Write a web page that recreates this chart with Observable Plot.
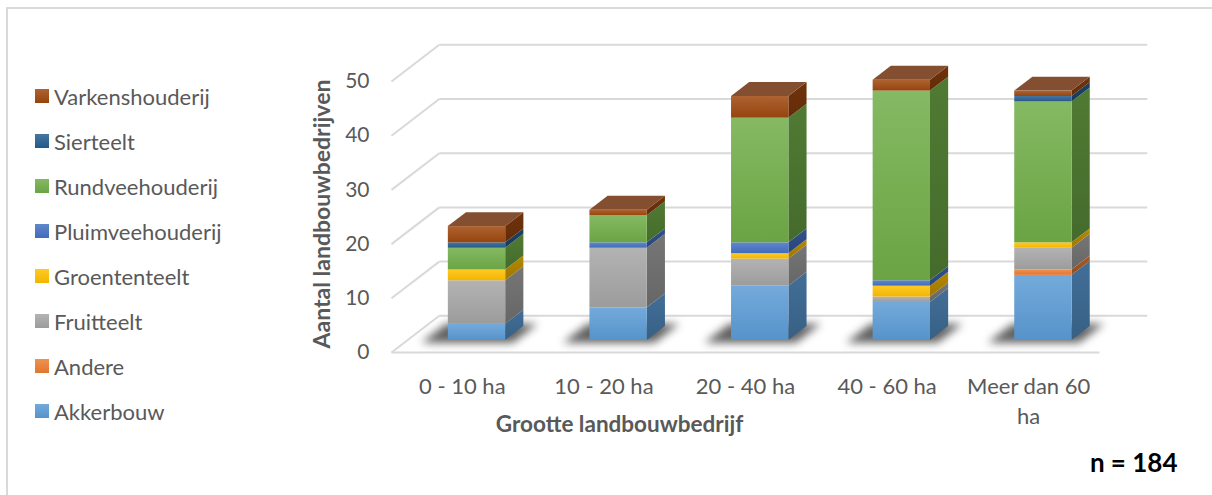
<!DOCTYPE html>
<html>
<head>
<meta charset="utf-8">
<script src="https://cdn.jsdelivr.net/npm/d3@7"></script>
<script src="https://cdn.jsdelivr.net/npm/@observablehq/plot@0.6"></script>
<style>
  html, body { margin: 0; padding: 0; background: #fff; overflow: hidden; }
  #chart { position: relative; width: 1212px; height: 495px; overflow: hidden; font-family: Lato, "Open Sans", sans-serif; }
  #frame { position: absolute; left: 6px; top: 7px; width: 1300px; height: 600px; border-top: 2px solid #d9d9d9; border-left: 2px solid #d9d9d9; }
  #plot { position: absolute; left: 0; top: 0; }
  .item { position: absolute; left: 35px; height: 30px; display: flex; align-items: center; font-size: 22px; color: #595959; white-space: nowrap; }
  .swatch { width: 14px; height: 14px; margin-right: 5px; flex: none; }
</style>
</head>
<body>
<div id="chart"><div id="frame"></div><div id="plot"></div><div id="legend"></div></div>
<script>
// Farm counts per size class, stacked bottom to top in series order
const categories = ["0 - 10 ha", "10 - 20 ha", "20 - 40 ha", "40 - 60 ha", "Meer dan 60 ha"];
const seriesNames = ["Akkerbouw", "Andere", "Fruitteelt", "Groententeelt", "Pluimveehouderij", "Rundveehouderij", "Sierteelt", "Varkenshouderij"];
const seriesColors = ["#5b9bd5", "#ed7d31", "#a5a5a5", "#ffc000", "#4472c4", "#70ad47", "#255e91", "#9e480e"];
const akkerbouw        = [3, 6, 10, 7, 12];
const andere           = [0, 0, 0, 0, 1];
const fruitteelt       = [8, 11, 5, 1, 4];
const groententeelt    = [2, 0, 1, 2, 1];
const pluimveehouderij = [0, 1, 2, 1, 0];
const rundveehouderij  = [4, 5, 23, 35, 26];
const sierteelt        = [1, 0, 0, 0, 1];
const varkenshouderij  = [3, 1, 4, 2, 1];
const yTicks = [0, 10, 20, 30, 40, 50];
const xTitle = "Grootte landbouwbedrijf";
const yTitle = "Aantal landbouwbedrijven";

const seriesValues = [akkerbouw, andere, fruitteelt, groententeelt, pluimveehouderij, rundveehouderij, sierteelt, varkenshouderij];
const total = d3.sum(seriesValues, s => d3.sum(s));

// Oblique projection of depth: a full step back into the floor moves
// DX category units right and DY value units up.
const DX = 0.3376, DY = 6.77;
const Z0 = 0.33, Z1 = 0.71;          // front and back plane of the columns
const BAR_L = 0.29, BAR_R = 0.695;   // column extent within a category

// Stacked segments
const segments = [];
categories.forEach((c, i) => {
  let s = 0;
  seriesValues.forEach((vals, j) => {
    const v = vals[i];
    if (v > 0) { segments.push({i, j, s0: s, s1: s + v}); s += v; }
  });
});
const tops = categories.map((c, i) => segments.filter(d => d.i === i).at(-1));

const xl = d => d.i + BAR_L, xr = d => d.i + BAR_R;

const sideRows = segments.flatMap((d, k) => [Z0, Z1].map(z => ({
  key: k, x: xr(d) + z * DX, y1: d.s0 + z * DY, y2: d.s1 + z * DY, fill: `url(#side${d.j})`
})));
const topRows = tops.flatMap((d, k) => [Z0, Z1].map(z => ({
  key: k, y: d.s1 + z * DY, x1: xl(d) + z * DX, x2: xr(d) + z * DX,
  fill: d3.interpolateRgb(seriesColors[d.j], "#5a5a6a")(0.38)
})));
const shadowRows = categories.flatMap((c, i) => [Z0 - 0.08, Z1 + 0.06].map(z => ({
  key: i, y: z * DY, x1: i + BAR_L - 0.16 + z * DX, x2: i + BAR_R + 0.08 + z * DX
})));

const n = categories.length;
const grid = {stroke: "#d9d9d9", strokeWidth: 2};

const svg = Plot.plot({
  width: 1212, height: 495,
  marginLeft: 391, marginRight: 113, marginTop: 81, marginBottom: 143,
  x: {domain: [0, n], axis: null},
  y: {domain: [0, 50], axis: null},
  color: {type: "identity"},
  style: {fontFamily: "Lato, 'Open Sans', sans-serif", color: "#595959", background: "transparent"},
  marks: [
    // walls and floor
    Plot.link(yTicks, {x1: DX, x2: n + DX, y1: v => v + DY, y2: v => v + DY, ...grid}),
    Plot.link(yTicks, {x1: 0, x2: DX, y1: v => v, y2: v => v + DY, ...grid}),
    Plot.link([0], {x1: 0, x2: n, y1: 0, y2: 0, ...grid}),
    // soft contact shadows under the columns
    Plot.area(shadowRows, {y1: "y", x1: "x1", x2: "x2", z: "key", fill: "#000", fillOpacity: 0.62, ariaDescription: "shadow"}),
    // columns: side, front, top faces
    Plot.area(sideRows, {x1: "x", y1: "y1", y2: "y2", z: "key", fill: "fill"}),
    Plot.rect(segments, {
      x1: d => xl(d) + Z0 * DX, x2: d => xr(d) + Z0 * DX,
      y1: d => d.s0 + Z0 * DY, y2: d => d.s1 + Z0 * DY,
      fill: d => `url(#front${d.j})`
    }),
    Plot.area(topRows, {y1: "y", x1: "x1", x2: "x2", z: "key", fill: "fill"}),
    // axes and titles
    Plot.axisY({ticks: yTicks, tickSize: 0, tickPadding: 22, fontSize: 21, fill: "#595959", label: null}),
    Plot.text(categories, {x: (d, i) => i + 0.5, y: 0, text: d => d, lineAnchor: "top", dy: 20.4,
      fontSize: 22, lineHeight: 30 / 22, lineWidth: 6.2, fill: "#595959"}),
    Plot.text([xTitle], {frameAnchor: "bottom", text: d => d, textAnchor: "middle", lineAnchor: "middle",
      dx: -126, dy: 72.3, fontSize: 22.5, fontWeight: "bold", fill: "#595959"}),
    Plot.text([yTitle], {frameAnchor: "left", text: d => d, rotate: -90, textAnchor: "middle", lineAnchor: "middle",
      dx: -68.5, dy: -3, fontSize: 23, fontWeight: "bold", fill: "#595959"}),
    Plot.text([total], {frameAnchor: "bottom-right", text: d => `n = ${d}`, textAnchor: "end", lineAnchor: "middle",
      dx: 78, dy: 111, fontSize: 26, fontWeight: "bold", fill: "#000"})
  ]
});

// Face gradients: fronts lit from above, sides in shade
const defs = d3.select(svg).insert("defs", ":first-child");
function gradient(id, c0, c1) {
  const g = defs.append("linearGradient").attr("id", id).attr("x1", 0).attr("y1", 0).attr("x2", 0).attr("y2", 1);
  g.append("stop").attr("offset", "0%").attr("stop-color", c0);
  g.append("stop").attr("offset", "100%").attr("stop-color", c1);
}
seriesColors.forEach((c, j) => {
  gradient(`front${j}`, d3.interpolateRgb(c, "#fff")(0.15), d3.color(c).darker(0.15).formatHex());
  gradient(`side${j}`, d3.color(c).darker(0.95).formatHex(), d3.color(c).darker(1.35).formatHex());
});
defs.append("filter").attr("id", "soft")
    .attr("x", "-50%").attr("y", "-300%").attr("width", "200%").attr("height", "700%")
  .append("feGaussianBlur").attr("stdDeviation", 4);
const shadow = svg.querySelector('g[aria-description="shadow"]') || svg.querySelectorAll('g[aria-label="area"]')[0];
if (shadow) shadow.setAttribute("filter", "url(#soft)");

document.getElementById("plot").append(svg);

// Legend, top entry is the top of the stack
const legend = document.getElementById("legend");
seriesNames.slice().reverse().forEach((name, k) => {
  const j = seriesNames.length - 1 - k;
  const c = seriesColors[j];
  const item = document.createElement("div");
  item.className = "item";
  item.style.top = (96 + 45 * k - 15) + "px";
  const sw = document.createElement("span");
  sw.className = "swatch";
  sw.style.background = `linear-gradient(${d3.interpolateRgb(c, "#fff")(0.15)}, ${d3.color(c).darker(0.15).formatHex()})`;
  item.append(sw, document.createTextNode(name));
  legend.append(item);
});
</script>
</body>
</html>
